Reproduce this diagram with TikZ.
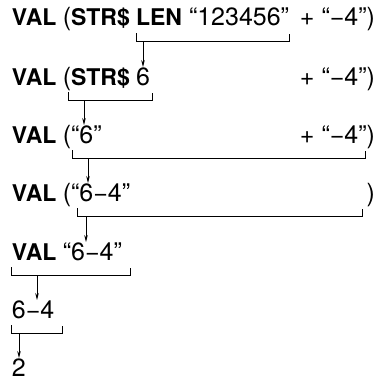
\documentclass[tikz,border=0pt]{standalone}
\usepackage{fontspec}
\setmainfont{TeX Gyre Heros}
\usetikzlibrary{arrows.meta}
\newcommand{\kw}{\bfseries\fontsize{23}{25}\selectfont}
\newcommand{\rg}{\mdseries\fontsize{25}{27}\selectfont}

\begin{document}
\begin{tikzpicture}[x=1pt, y=-1pt, line width=0.9pt,
  tok/.style={inner sep=0pt, outer sep=0pt, anchor=base west, font=\rg},
  tokr/.style={tok, anchor=base east},
  brk/.style={line width=0.9pt},
  arr/.style={-{Stealth[length=7pt,width=3.6pt]}, line width=0.8pt}]
  \useasboundingbox (0,0) rectangle (381,380);

  % --- line 1 ---
  \node[tok] (l1a) at (12,26) {\kw VAL \rg(\kw STR\$};
  \node[tok] (l1len) at (136,26) {\kw LEN};
  \node[tok] (l1str) at (189,26) {“123456”};
  \node[tokr] (l1cat) at (375,26) {+ “−4”)};
  % --- line 2 ---
  \node[tok] (l2a) at (12,85) {\kw VAL \rg(\kw STR\$ \rg 6};
  \node[tokr] (l2cat) at (375,85) {+ “−4”)};
  % --- line 3 ---
  \node[tok] (l3a) at (12,143) {\kw VAL \rg(“6”};
  \node[tokr] (l3cat) at (375,143) {+ “−4”)};
  % --- line 4 ---
  \node[tok] (l4a) at (12,201) {\kw VAL \rg(“6−4”};
  \node[tokr] (l4rp) at (375,201) {)};
  % --- line 5 ---
  \node[tok] (l5a) at (12,260) {\kw VAL \rg“6−4”};
  % --- line 6 ---
  \node[tok] (l6a) at (12,318) {6−4};
  % --- line 7 ---
  \node[tok] (l7a) at (12,376) {2};

  % === brackets (under the part that is evaluated next) ===
  \draw[brk] (136,33) -- (136,41) -- (289,41) -- (289,34);
  \draw[brk] (68,92) -- (68,100) -- (152,100) -- (152,93);
  \draw[brk] (72,150) -- (72,158) -- (365,158) -- (365,151);
  \draw[brk] (77,208) -- (77,216) -- (362,216) -- (362,209);
  \draw[brk] (11,267) -- (11,275) -- (130,275) -- (130,268);
  \draw[brk] (11,325) -- (11,333) -- (62,333) -- (62,326);

  % === arrows: bracket -> next line ===
  \coordinate (k1) at (143,41);  \coordinate (t1) at (143,67);
  \coordinate (k2) at (84,100);  \coordinate (t2) at (84,125);
  \coordinate (k3) at (88,158);  \coordinate (t3) at (88,183);
  \coordinate (k4) at (86,216);  \coordinate (t4) at (86,242);
  \coordinate (k5) at (37,275);  \coordinate (t5) at (37,300);
  \coordinate (k6) at (19,333);  \coordinate (t6) at (19,358);
  \draw[arr] (k1) -- (t1);
  \draw[arr] (k2) -- (t2);
  \draw[arr] (k3) -- (t3);
  \draw[arr] (k4) -- (t4);
  \draw[arr] (k5) -- (t5);
  \draw[arr] (k6) -- (t6);
\end{tikzpicture}
\end{document}
